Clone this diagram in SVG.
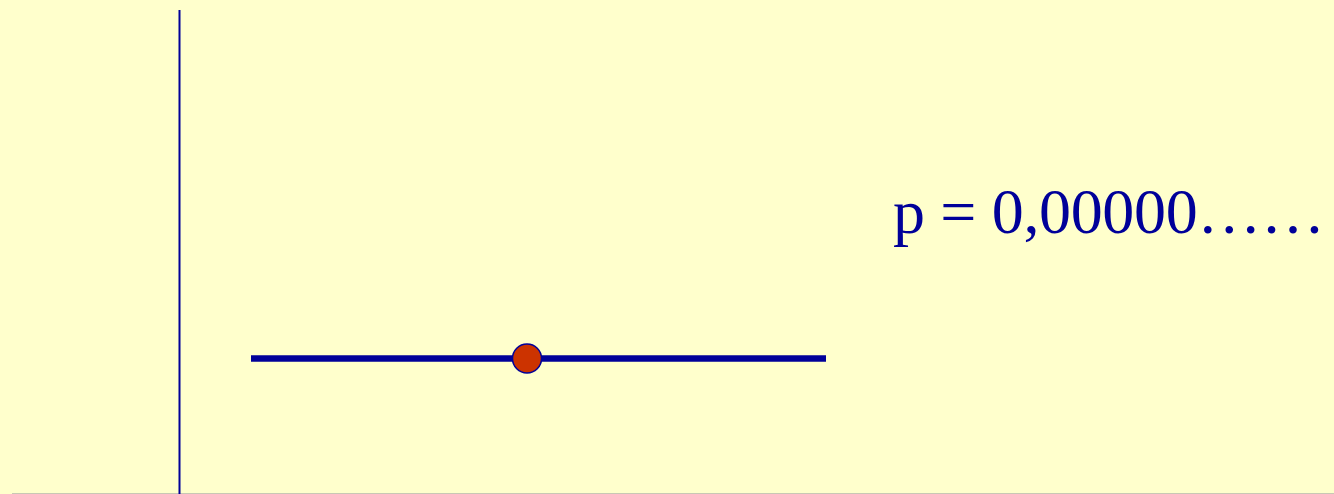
<svg xmlns="http://www.w3.org/2000/svg" width="1334" height="494" viewBox="0 0 1334 494">
  <style>
    .ink { stroke: #000099; }
    .lbl { font-family: "Liberation Serif", "Times New Roman", serif; font-size: 64px; fill: #000099; }
  </style>
  <rect x="0" y="0" width="1334" height="494" fill="#FFFFCC"/>
  <line x1="12" y1="493.5" x2="1334" y2="493.5" stroke="#C8C8B4" stroke-width="1"/>
  <g id="axis">
    <line class="ink" x1="179.5" y1="10" x2="179.5" y2="494" stroke-width="2"/>
  </g>
  <g id="segment">
    <line class="ink" x1="251" y1="358.5" x2="826" y2="358.5" stroke-width="6.5"/>
  </g>
  <g id="point">
    <circle cx="527" cy="358.5" r="14.5" fill="#CC3300" stroke="#000099" stroke-width="1.5"/>
  </g>
  <g id="label">
    <text class="lbl" x="893" y="233" textLength="432" lengthAdjust="spacing">p = 0,00000……</text>
  </g>
</svg>
